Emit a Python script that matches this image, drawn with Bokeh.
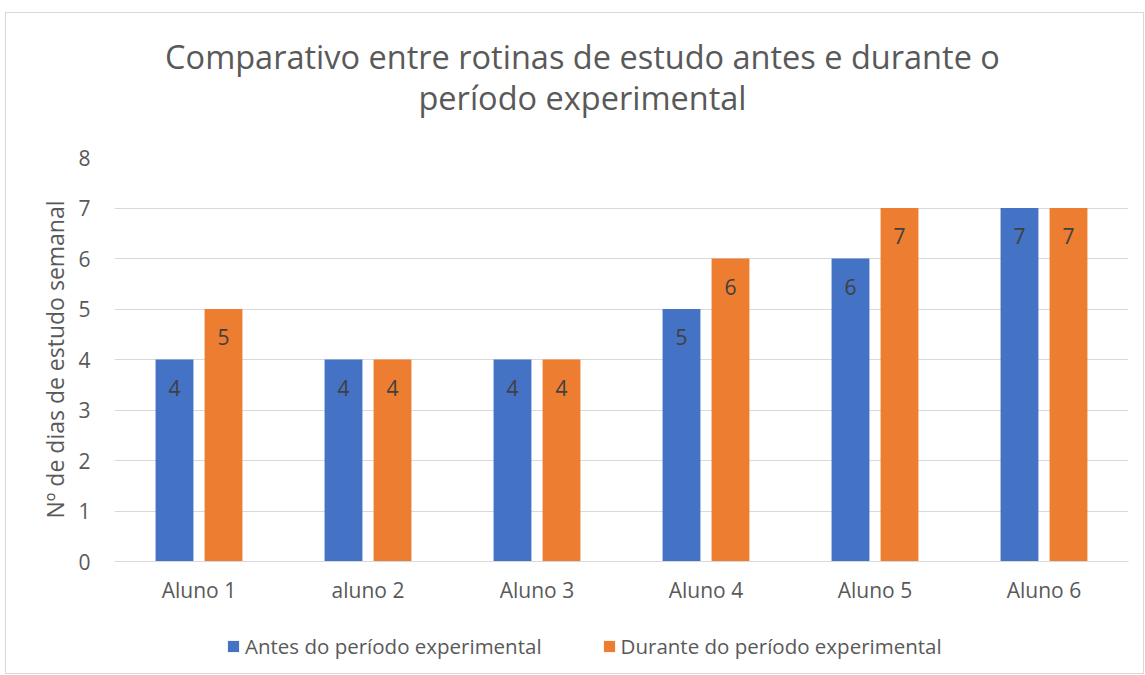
from bokeh.plotting import figure
from bokeh.models import Range1d, FixedTicker, Legend, LegendItem, ColumnDataSource
from bokeh.layouts import column
from bokeh.core.properties import value
from bokeh.embed import file_html
from bokeh.resources import INLINE

categories = ["Aluno 1", "aluno 2", "Aluno 3", "Aluno 4", "Aluno 5", "Aluno 6"]
antes = [4, 4, 4, 5, 6, 7]
durante = [5, 4, 4, 6, 7, 7]
y_ticks = [0, 1, 2, 3, 4, 5, 6, 7, 8]
title_lines = ["Comparativo entre rotinas de estudo antes e durante o", "período experimental"]
y_label = "Nº de dias de estudo semanal"
series_names = ["Antes do período experimental", "Durante do período experimental"]

BLUE = "#4472C4"
ORANGE = "#ED7D31"
TXT = "#595959"
FONT = "Open Sans"
W = 1137
ML, MR = 108, 15            # side borders (frame spans page x 114..1128)
X0 = 6                      # page x of the layout's left edge
Y0 = 13                     # page y of the layout's top edge
TH, MH, LH = 120, 474, 66   # heights: title strip, chart, legend strip

# ---- title strip (coordinates = page pixels) ----
tf = figure(width=W, height=TH, output_backend="svg", toolbar_location=None,
            x_range=Range1d(X0 + ML, X0 + W - MR), y_range=Range1d(Y0 + TH, Y0),
            min_border_left=ML, min_border_right=MR, min_border_top=0, min_border_bottom=0,
            x_axis_location=None, y_axis_location=None)
tf.grid.visible = False
tf.outline_line_color = None
tf.title = None
tsrc = ColumnDataSource(dict(x=[582, 582], y=[56, 97], t=title_lines))
tf.text(x="x", y="y", text="t", source=tsrc, text_align="center", text_baseline="alphabetic",
        text_font=value(FONT), text_font_size="32.5px", text_color=TXT)

# ---- main chart ----
p = figure(width=W, height=MH, output_backend="svg", toolbar_location=None,
           x_range=Range1d(0, len(categories)), y_range=Range1d(0, 8),
           min_border_left=ML, min_border_right=MR, min_border_top=24, min_border_bottom=46)
p.title = None
p.outline_line_color = None
p.background_fill_color = "white"
p.border_fill_color = "white"

centers = [i + 0.5 for i in range(len(categories))]
xa = [c - 0.145 for c in centers]
xd = [c + 0.145 for c in centers]
src_a = ColumnDataSource(dict(x=xa, top=antes, lab=[str(v) for v in antes]))
src_d = ColumnDataSource(dict(x=xd, top=durante, lab=[str(v) for v in durante]))

p.vbar(x="x", top="top", bottom=0, width=0.224, source=src_a, fill_color=BLUE, line_color=None)
p.vbar(x="x", top="top", bottom=0, width=0.224, source=src_d, fill_color=ORANGE, line_color=None)

for src in (src_a, src_d):
    p.text(x="x", y="top", text="lab", source=src, y_offset=28, text_align="center",
           text_baseline="middle", text_font=value(FONT), text_font_size="21px", text_color="#404040")

p.xaxis.ticker = FixedTicker(ticks=centers)
p.xaxis.major_label_overrides = {c: n for c, n in zip(centers, categories)}
p.yaxis.ticker = FixedTicker(ticks=y_ticks)
for ax in (p.xaxis[0], p.yaxis[0]):
    ax.major_tick_line_color = None
    ax.minor_tick_line_color = None
    ax.major_label_text_font = FONT
    ax.major_label_text_font_size = "21px"
    ax.major_label_text_color = TXT
p.xaxis.axis_line_color = "#D9D9D9"
p.yaxis.axis_line_color = None
p.xaxis.major_label_standoff = 8
p.yaxis.major_label_standoff = 18
p.yaxis.axis_label = y_label
p.yaxis.axis_label_text_font = FONT
p.yaxis.axis_label_text_font_size = "23px"
p.yaxis.axis_label_text_font_style = "normal"
p.yaxis.axis_label_text_color = TXT
p.yaxis.axis_label_standoff = 4

p.xgrid.grid_line_color = None
p.ygrid.grid_line_color = "#D9D9D9"
p.ygrid.grid_line_width = 1

# ---- legend strip ----
leg = figure(width=W, height=LH, output_backend="svg", toolbar_location=None,
             x_range=Range1d(0, 1), y_range=Range1d(0, 1),
             min_border_left=ML, min_border_right=MR, min_border_top=0, min_border_bottom=0,
             x_axis_location=None, y_axis_location=None)
leg.title = None
leg.grid.visible = False
leg.outline_line_color = None
la = leg.vbar(x=[-100], top=[0], width=1, fill_color=BLUE, line_color=None)
ld = leg.vbar(x=[-100], top=[0], width=1, fill_color=ORANGE, line_color=None)
legend = Legend(items=[LegendItem(label=series_names[0], renderers=[la]),
                       LegendItem(label=series_names[1], renderers=[ld])],
                orientation="horizontal", location=(112, 13),
                glyph_width=14, glyph_height=14, label_standoff=5, spacing=60,
                label_text_font=FONT, label_text_font_size="20.5px", label_text_color=TXT,
                border_line_color=None, background_fill_alpha=0, padding=0, margin=0)
leg.add_layout(legend, "center")

layout = column(tf, p, leg, spacing=0,
                styles={"border": "1px solid #D9D9D9", "margin-left": "5px", "margin-top": "12px"})

open("out.html", "w").write(file_html(layout, INLINE))
